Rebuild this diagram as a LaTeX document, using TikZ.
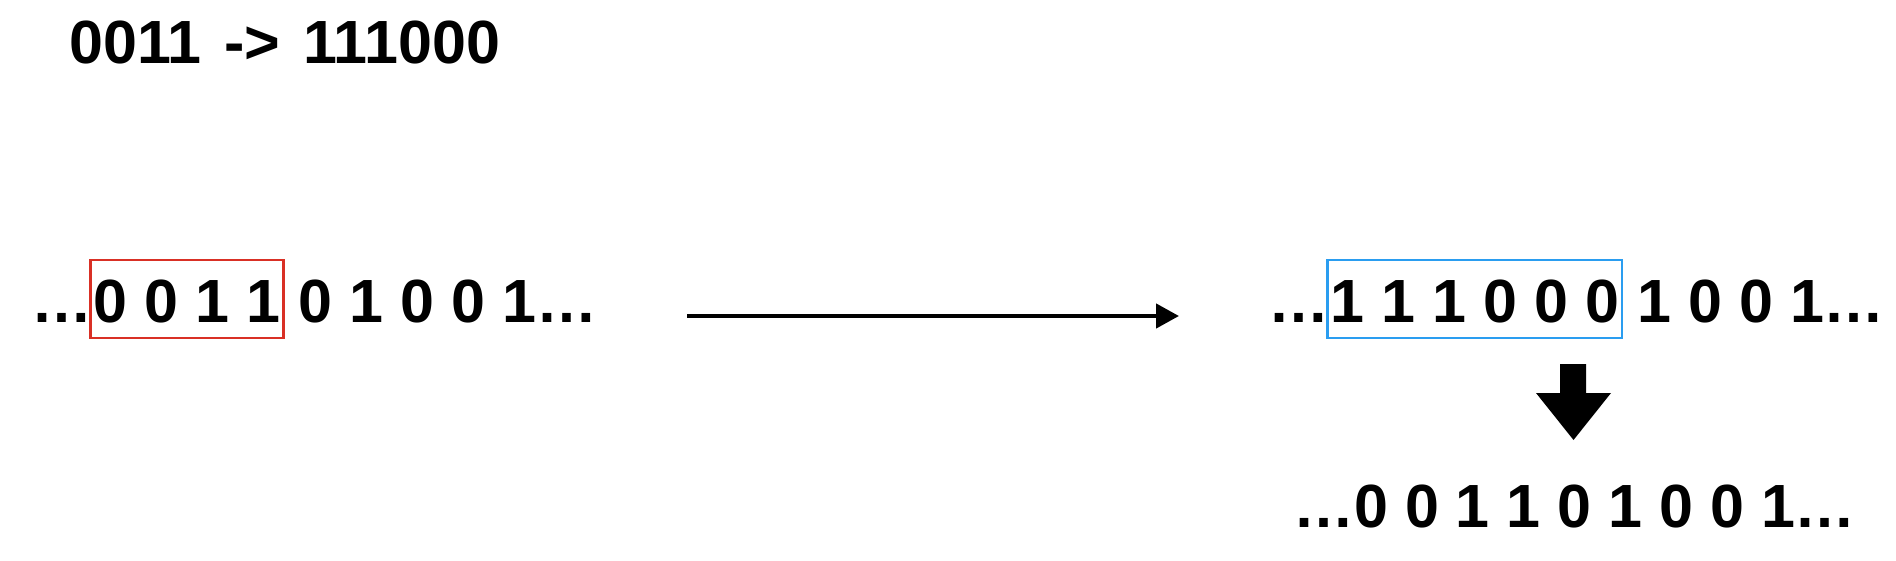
\documentclass[tikz,border=0pt]{standalone}
\usepackage{fontspec}
\setmainfont{Liberation Sans}
\usetikzlibrary{arrows.meta}
\definecolor{boxred}{RGB}{217,48,37}
\definecolor{boxblue}{RGB}{42,157,240}
\begin{document}
\begin{tikzpicture}[x=1pt,y=1pt,
  txt/.style={font=\fontsize{61}{70}\selectfont\bfseries, inner sep=0pt, anchor=base west},
  hbox/.style={txt, draw=#1, line width=2.6pt, inner xsep=3pt, inner ysep=0pt, text height=62pt, text depth=16pt},
  conn/.style={line width=4.5pt, -{Triangle[length=23pt,width=24pt]}}]
\useasboundingbox (0,0) rectangle (1896,-560);
% title
\node[txt] (T) at (69,-63) {0011\hspace{6pt} ->\hspace{6pt} 111000};
% left row
\node[txt] (L1) at (31,-322) {…};
\node[hbox=boxred] (L2) at ([xshift=-3pt]L1.base east) {0 0 1 1};
\node[txt] (L3) at ([xshift=-3pt]L2.base east) {\ 0 1 0 0 1…};
% right row
\node[txt] (R1) at (1268,-322) {…};
\node[hbox=boxblue] (R2) at ([xshift=-3pt]R1.base east) {1 1 1 0 0 0};
\node[txt] (R3) at ([xshift=-3pt]R2.base east) {\ 1 0 0 1…};
% bottom row
\node[txt] (B1) at (1293,-527) {…0 0 1 1 0 1 0 0 1…};
% connector
\draw[conn] ([shift={(90pt,6pt)}]L3.base east) -- ([shift={(-89pt,6pt)}]R1.base west);
% block arrow down
\fill (1560,-364) -- (1586,-364) -- (1586,-393) -- (1611,-393) -- (1573.5,-440)
      -- (1536,-393) -- (1560,-393) -- cycle;
\end{tikzpicture}
\end{document}
